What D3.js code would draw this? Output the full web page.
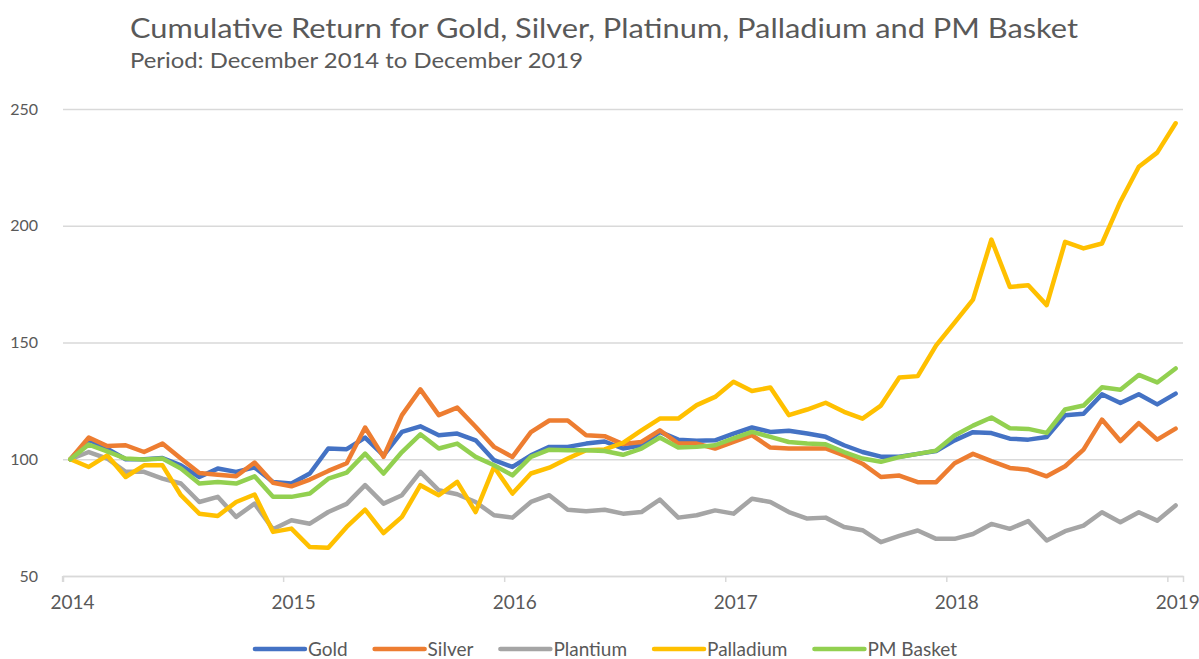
<!DOCTYPE html>
<html>
<head>
<meta charset="utf-8">
<script src="https://cdn.jsdelivr.net/npm/d3@7"></script>
<style>
  body { margin: 0; background: #fff; }
  text { font-family: Lato, "Open Sans", sans-serif; fill: #595959; }
</style>
</head>
<body>
<script>
// months Dec 2014 .. Dec 2019 (61 points)
var months = d3.timeMonth.range(new Date(2014, 11, 1), new Date(2020, 0, 1));
var yearLabels = ["2014", "2015", "2016", "2017", "2018", "2019"];
var yTicks = [50, 100, 150, 200, 250];
var seriesNames = ["Gold", "Silver", "Plantium", "Palladium", "PM Basket"];

var gold = [100,108.4,104.5,100,100,100.5,97.4,92.4,96,94.6,96.5,90.3,89.6,93.9,104.6,104.3,109.3,101.7,111.7,114.1,110.3,111,108.1,99.6,96.7,101.7,105.3,105.3,106.7,107.6,104.6,106,111.7,108.4,107.9,108.1,111,113.6,111.7,112.2,111,109.6,106,103.1,101.1,101.1,102.3,103.5,108.1,111.6,111.2,108.8,108.4,109.5,118.8,119.5,127.8,124.1,127.8,123.5,128.1];
var silver = [100,109.3,105.7,106,103.1,106.7,100.3,94.1,93.4,92.7,98.6,89.9,88.4,91.3,95,98.3,113.6,101,118.9,129.9,118.9,122.1,113.9,105.3,101,111.6,116.6,116.6,110.3,109.9,106.5,107.4,112.4,106.7,106.7,104.6,107.4,110.3,105,104.6,104.6,104.6,101.7,98.1,92.4,93,90.2,90.2,98.3,102.3,99.2,96.3,95.5,92.7,97,104.1,117,107.8,115.5,108.4,113.1];
var platinum = [100,103.1,100.3,94.6,94.6,91.7,89.6,81.7,83.9,75.3,81,70,73.9,72.4,77.4,80.9,88.9,81,84.6,94.6,86.7,85,81.7,76,75,81.7,84.6,78.4,77.7,78.4,76.7,77.4,82.7,75,76,78.1,76.7,83.1,81.7,77.4,74.6,75,71,69.6,64.5,67.2,69.5,65.9,65.9,68,72.3,70.2,73.5,65.2,69.2,71.6,77.3,73,77.3,73.7,80.2];
var palladium = [100,96.7,101.7,92.4,97.4,97.4,84.6,76.7,75.7,81.7,84.9,68.9,70.3,62.4,62.1,71,78.4,68.4,75.3,88.9,84.6,90.3,77.4,96.7,85.3,93.9,96.4,100.3,103.9,104.2,107,112.4,117.4,117.4,123.2,126.7,133.2,129.2,130.7,118.9,121.3,124.2,120.3,117.4,123,135,135.6,148.8,158.5,168.4,194.1,173.8,174.5,166,193.1,190.3,192.4,210.3,225.3,231.3,243.9];
var basket = [100,106.3,103.4,100.3,99.9,100.3,96,89.6,90.3,89.6,92.7,83.9,83.9,85.3,91.7,94.3,102.4,93.9,103.1,110.7,104.6,106.7,101,97.4,93.1,101,104.1,103.9,103.9,103.5,101.9,104.6,109.3,105,105.3,106,108.9,111.7,109.6,107.4,106.7,106.4,103.1,100.3,98.9,100.9,102.3,103.7,110.2,114.4,117.9,113.3,113,111.3,121.3,123,130.8,129.8,136.1,132.9,138.9];

var colors = ["#4472C4", "#ED7D31", "#A5A5A5", "#FFC000", "#92D050"];
var seriesValues = [gold, silver, platinum, palladium, basket];

var width = 1199, height = 659;
var plotL = 63, plotR = 1183, plotT = 109, plotB = 576;

var svg = d3.select("body").append("svg")
    .attr("width", width)
    .attr("height", height);

// x is month index, axis starts a bit before the first point
var x = d3.scaleLinear().domain([-0.4, months.length - 0.6]).range([plotL, plotR]);
var y = d3.scaleLinear().domain([50, 250]).range([plotB, plotT]);

// title
svg.append("text")
    .attr("x", 130).attr("y", 38)
    .attr("font-size", 26)
    .attr("textLength", 948).attr("lengthAdjust", "spacingAndGlyphs")
    .text("Cumulative Return for Gold, Silver, Platinum, Palladium and PM Basket");
svg.append("text")
    .attr("x", 130).attr("y", 68)
    .attr("font-size", 22)
    .attr("textLength", 453).attr("lengthAdjust", "spacingAndGlyphs")
    .text("Period: December 2014 to December 2019");

// gridlines + y labels
var yAxis = svg.append("g")
    .attr("class", "y axis")
    .attr("transform", "translate(" + plotL + ",0)")
    .call(d3.axisLeft(y).tickValues(yTicks).tickSize(-(plotR - plotL)).tickPadding(25));
yAxis.select(".domain").remove();
yAxis.selectAll("line").attr("stroke", "#D9D9D9").attr("stroke-width", 1.5);
yAxis.selectAll("text").attr("font-size", 16).attr("fill", "#595959");

// x axis, a tick every 12 months
var yearIdx = yearLabels.map(function(d, i) { return i * 12; });
var xAxis = svg.append("g")
    .attr("class", "x axis")
    .attr("transform", "translate(0," + plotB + ")")
    .call(d3.axisBottom(x)
        .tickValues(yearIdx.map(function(d) { return d - 0.45; }))
        .tickFormat(function(d, i) { return yearLabels[i]; })
        .tickSizeOuter(0).tickSize(6).tickPadding(14));
xAxis.select(".domain").attr("stroke", "#D9D9D9").attr("stroke-width", 1.5);
xAxis.selectAll("line").attr("stroke", "#D9D9D9").attr("stroke-width", 1.5);
xAxis.selectAll("text").attr("font-size", 19).attr("fill", "#595959").attr("dx", 10);

// lines
var line = d3.line()
    .x(function(d, i) { return x(i); })
    .y(function(d) { return y(d); });

svg.append("g").attr("class", "series")
    .selectAll("path")
    .data(seriesValues)
    .enter().append("path")
    .attr("d", line)
    .attr("fill", "none")
    .attr("stroke", function(d, i) { return colors[i]; })
    .attr("stroke-width", 4.5)
    .attr("stroke-linejoin", "round")
    .attr("stroke-linecap", "round");

// legend, centred under the plot
var legend = svg.append("g").attr("class", "legend");
var pos = 0;
seriesNames.forEach(function(name, i) {
    var item = legend.append("g").attr("transform", "translate(" + pos + ",0)");
    item.append("line")
        .attr("x1", 0).attr("x2", 50)
        .attr("y1", 0).attr("y2", 0)
        .attr("stroke", colors[i]).attr("stroke-width", 4.5)
        .attr("stroke-linecap", "round");
    var t = item.append("text")
        .attr("x", 53).attr("y", 6.5)
        .attr("font-size", 19)
        .text(name);
    pos += 53 + t.node().getComputedTextLength() + 27;
});
pos -= 27;
legend.attr("transform", "translate(" + (606 - pos / 2) + ",649)");
</script>
</body>
</html>
